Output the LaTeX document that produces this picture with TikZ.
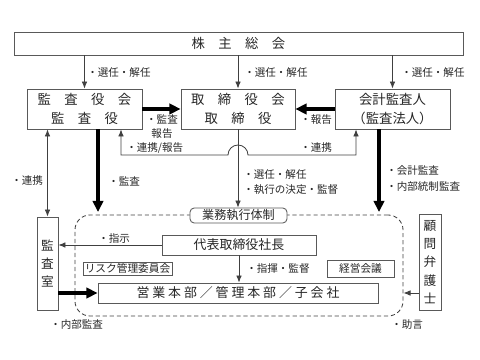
\documentclass[tikz,border=0pt]{standalone}
\usepackage{fontspec}
\setmainfont{Noto Sans CJK JP}
\usetikzlibrary{arrows.meta}

\begin{document}
\begin{tikzpicture}[x=0.025cm, y=-0.025cm,
    lat/.tip={Latex[length=5pt,width=4pt]},
    box/.style={draw=black!65, line width=0.6pt, fill=white, inner sep=0pt, align=center,
      text=black!85, font=\fontsize{9.5pt}{13pt}\selectfont},
    smallbox/.style={box, font=\fontsize{7.6pt}{9pt}\selectfont},
    lbl/.style={anchor=west, inner sep=0pt, text=black!85, font=\fontsize{7.5pt}{10pt}\selectfont},
    arrowthin/.style={draw=black!75, line width=0.6pt, -lat},
    arrowbold/.style={draw=black, line width=3pt, -{Triangle[length=8pt,width=7.5pt]}},
  ]
  \useasboundingbox (0,0) rectangle (480,360);

  % Shareholders meeting
  \node[box, minimum width=11.225cm, minimum height=0.575cm] (kabunushi) at (238.5,43.5) {株　主　総　会};

  % Second row of boxes
  \node[box, minimum width=2.875cm, minimum height=1cm] (kansa) at (84.5,109) {監　査　役　会\\監　査　役};
  \node[box, minimum width=2.85cm, minimum height=1cm] (torishimari) at (238,109) {取　締　役　会\\取　締　役};
  \node[box, minimum width=2.875cm, minimum height=1cm] (kaikei) at (392.5,109) {会計監査人\\（監査法人）};

  % Election arrows from the meeting
  \foreach \b/\x in {kansa/87, torishimari/244, kaikei/401} {
    \draw[arrowthin] (kabunushi.south -| \b) -- (\b.north);
    \node[lbl] at (\x,72) {・選任・解任};
  }

  % Reports to the board
  \draw[arrowbold] (kansa.east) -- (torishimari.west);
  \node[lbl, anchor=center, align=center] at (162,126.5) {・監査\\報告};
  \draw[arrowbold] (kaikei.west) -- (torishimari.east);
  \node[lbl] at (300,120) {・報告};

  % Cooperation line with the bump over the board arrow
  \coordinate (kr) at (121,155);
  \coordinate (kl) at (356,155);
  \draw[draw=black!75, line width=0.6pt, lat-lat] (kansa.south -| kr) -- (kr) -- (228,155)
    arc[start angle=180, end angle=0, radius=0.25cm] -- (kl) -- (kaikei.south -| kl);
  \node[lbl] at (126,148) {・連携/報告};
  \node[lbl] at (300,148) {・連携};

  % Execution region
  \node[draw=black!75, line width=0.6pt, dash pattern=on 3pt off 2pt, rounded corners=0.375cm,
    minimum width=8.2cm, minimum height=2.525cm, inner sep=0pt] (taisei) at (239,265.5) {};
  \node[box, rounded corners=3pt, minimum width=2.425cm, minimum height=0.375cm,
    font=\fontsize{8.6pt}{10pt}\selectfont] (gyomu) at (238.5,215.5) {業務執行体制};
  \node[box, minimum width=3.85cm, minimum height=0.5cm, font=\fontsize{9.2pt}{11pt}\selectfont]
    (daihyo) at (239,245) {代表取締役社長};
  \node[smallbox, minimum width=2.225cm, minimum height=0.325cm] (risk) at (127.5,268.5) {リスク管理委員会};
  \node[smallbox, minimum width=1.675cm, minimum height=0.425cm] (keiei) at (360.5,268.5) {経営会議};
  \node[box, minimum width=7cm, minimum height=0.5cm, font=\fontsize{9.2pt}{11pt}\selectfont]
    (eigyo) at (238,293) {営 業 本 部 ／ 管 理 本 部 ／ 子 会 社};

  % Board to execution
  \draw[arrowthin] (torishimari.south) -- (torishimari.south |- gyomu.north);
  \node[lbl] at (243,174) {・選任・解任};
  \node[lbl] at (243,190) {・執行の決定・監督};
  \draw[arrowthin] (daihyo.south) -- (daihyo.south |- eigyo.north);
  \node[lbl] at (246,268.5) {・指揮・監督};

  % Side boxes
  \node[box, minimum width=0.525cm, minimum height=2.325cm, font=\fontsize{9pt}{13pt}\selectfont]
    (kansashitsu) at (47.5,263.5) {監\\査\\室};
  \node[box, minimum width=0.55cm, minimum height=2.4cm, font=\fontsize{9pt}{13pt}\selectfont]
    (komon) at (430,262) {顧\\問\\弁\\護\\士};

  % Audits
  \coordinate (ka) at (98,212);
  \coordinate (kb) at (379,212);
  \draw[arrowbold] (kansa.south -| ka) -- (ka);
  \node[lbl] at (108,181) {・監査};
  \draw[arrowbold] (kaikei.south -| kb) -- (kb);
  \node[lbl] at (386,171) {・会計監査};
  \node[lbl] at (386,187) {・内部統制監査};
  \draw[draw=black!75, line width=0.6pt, lat-lat] (kansa.south -| kansashitsu) -- (kansashitsu.north);
  \node[lbl] at (11,181) {・連携};

  % Instructions, internal audit and advice
  \draw[arrowthin] (daihyo.west) -- (kansashitsu.east |- daihyo);
  \node[lbl] at (98,238) {・指示};
  \draw[arrowbold] (kansashitsu.east |- eigyo) -- (eigyo.west);
  \node[lbl] at (50,325) {・内部監査};
  \draw[arrowthin] (komon.west |- eigyo) -- (taisei.east |- eigyo);
  \node[lbl] at (391,325) {・助言};
\end{tikzpicture}
\end{document}
